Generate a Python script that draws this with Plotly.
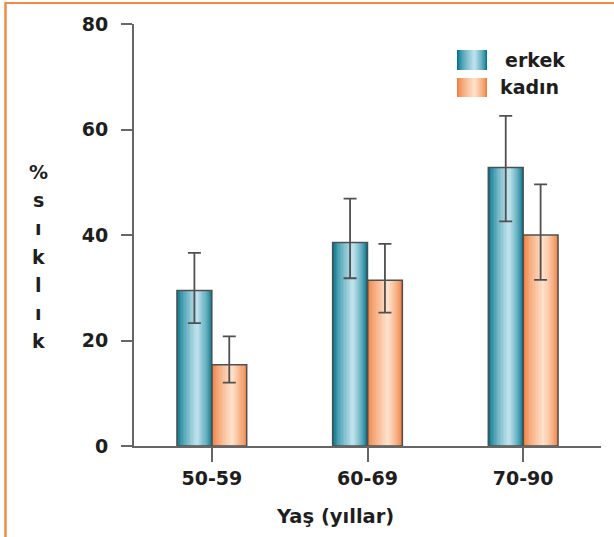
import plotly.graph_objects as go

# ---- data ----
categories = ["50-59", "60-69", "70-90"]
erkek = [29.5, 38.6, 52.8]
erkek_err_plus = [7.1, 8.3, 9.8]
erkek_err_minus = [6.2, 6.8, 10.2]
kadin = [15.4, 31.4, 40.0]
kadin_err_plus = [5.4, 6.9, 9.6]
kadin_err_minus = [3.4, 6.1, 8.5]
y_ticks = [0, 20, 40, 60, 80]
series_names = ["erkek", "kadın"]
x_title = "Yaş (yıllar)"
y_title_chars = ["%", "s", "ı", "k", "l", "ı", "k"]

# ---- layout geometry (pixels) ----
W, H = 614, 537
L, R, T, B = 134, 601, 24, 446

def px_x(p):
    return (p - L) / (R - L)

def px_y(p):
    return (B - p) / (B - T)

FONT = "DejaVu Sans, Verdana, sans-serif"
TEXT = "#1e1e1e"
AXIS = "#666666"
OUTLINE = "#505050"

teal_edge = (0, 116, 140)
teal_mid = (198, 231, 240)
orange_edge = (238, 126, 62)
orange_mid = (255, 228, 206)

def mix(a, b, t):
    return "rgb(%d,%d,%d)" % tuple(round(a[k] + (b[k] - a[k]) * t) for k in range(3))

BW = 0.224  # bar width in category units
N = 14
SHIFT = 0.08

fig = go.Figure()

def add_gradient_bars(values, offset_left, edge, mid):
    for i in range(N):
        t = i / N
        w = BW * (1 - t)
        c = offset_left + BW / 2 + SHIFT * BW * t
        col = mix(edge, mid, t ** 0.7)
        fig.add_trace(go.Bar(
            x=categories, y=values, width=w, offset=c - w / 2,
            marker=dict(color=col, line=dict(width=0)),
            showlegend=False, hoverinfo="skip"))

add_gradient_bars(erkek, -BW, teal_edge, teal_mid)
add_gradient_bars(kadin, 0.0, orange_edge, orange_mid)

# outline + error bars on top
for vals, plus, minus, off, name in [
    (erkek, erkek_err_plus, erkek_err_minus, -BW, series_names[0]),
    (kadin, kadin_err_plus, kadin_err_minus, 0.0, series_names[1]),
]:
    fig.add_trace(go.Bar(
        x=categories, y=vals, width=BW, offset=off, name=name,
        marker=dict(color="rgba(0,0,0,0)", line=dict(color=OUTLINE, width=1.5)),
        error_y=dict(type="data", array=plus, arrayminus=minus, symmetric=False,
                     color=OUTLINE, thickness=1.8, width=6.5),
        showlegend=False))

shapes = []
annotations = []

# custom legend
def swatch(x0, x1, y0, y1, edge, mid):
    for i in range(N):
        t = i / N
        w = (x1 - x0) * (1 - t)
        c = (x0 + x1) / 2 + SHIFT * (x1 - x0) * t
        shapes.append(dict(type="rect", xref="paper", yref="paper",
                           x0=px_x(c - w / 2), x1=px_x(c + w / 2),
                           y0=px_y(y1), y1=px_y(y0),
                           fillcolor=mix(edge, mid, t ** 0.7), line=dict(width=0), layer="above"))

swatch(457, 487, 50, 70, teal_edge, teal_mid)
swatch(457, 487, 78, 97, orange_edge, orange_mid)
annotations.append(dict(xref="paper", yref="paper", x=px_x(503), y=px_y(60),
                        xanchor="left", yanchor="middle", showarrow=False,
                        text=series_names[0], font=dict(family=FONT, size=19, color=TEXT, weight="bold")))
annotations.append(dict(xref="paper", yref="paper", x=px_x(498), y=px_y(87),
                        xanchor="left", yanchor="middle", showarrow=False,
                        text=series_names[1], font=dict(family=FONT, size=19, color=TEXT, weight="bold")))

# y title (stacked characters)
for i, ch in enumerate(y_title_chars):
    annotations.append(dict(xref="paper", yref="paper", x=px_x(38), y=px_y(172 + 28.2 * i),
                            xanchor="center", yanchor="middle", showarrow=False,
                            text=ch, font=dict(family=FONT, size=19, color=TEXT, weight="bold")))
# x title
annotations.append(dict(xref="paper", yref="paper", x=px_x(335), y=px_y(516),
                        xanchor="center", yanchor="middle", showarrow=False,
                        text=x_title,
                        font=dict(family=FONT, size=19.5, color=TEXT, weight="bold")))

# orange frame (top and left)
shapes.append(dict(type="line", xref="paper", yref="paper",
                   x0=px_x(5), x1=px_x(620), y0=px_y(3), y1=px_y(3),
                   line=dict(color="#F08A45", width=2)))
shapes.append(dict(type="line", xref="paper", yref="paper",
                   x0=px_x(5.5), x1=px_x(5.5), y0=px_y(2), y1=px_y(540),
                   line=dict(color="#F08A45", width=2.5)))

fig.update_layout(
    width=W, height=H,
    margin=dict(l=L, r=W - R, t=T, b=H - B, pad=0),
    paper_bgcolor="white", plot_bgcolor="white",
    barmode="overlay", bargap=0,
    showlegend=False,
    shapes=shapes, annotations=annotations,
    font=dict(family=FONT, color=TEXT),
)
fig.update_xaxes(
    type="category", range=[-0.5, 2.5],
    showline=True, linecolor=AXIS, linewidth=2,
    ticks="outside", ticklen=14, tickwidth=2, tickcolor=AXIS,
    tickfont=dict(family=FONT, size=19, color=TEXT, weight="bold"),
    showgrid=False, zeroline=False, fixedrange=True,
)
fig.update_yaxes(
    range=[0, 80], tickvals=y_ticks,
    showline=True, linecolor=AXIS, linewidth=2,
    ticks="outside", ticklen=11, tickwidth=2, tickcolor=AXIS,
    tickfont=dict(family=FONT, size=19, color=TEXT, weight="bold"),
    ticklabelstandoff=9,
    showgrid=False, zeroline=False, fixedrange=True,
)

fig.write_html("out.html",
               config={"displayModeBar": False, "staticPlot": True},
               post_script="document.body.style.margin='0';document.body.style.overflow='hidden';")
